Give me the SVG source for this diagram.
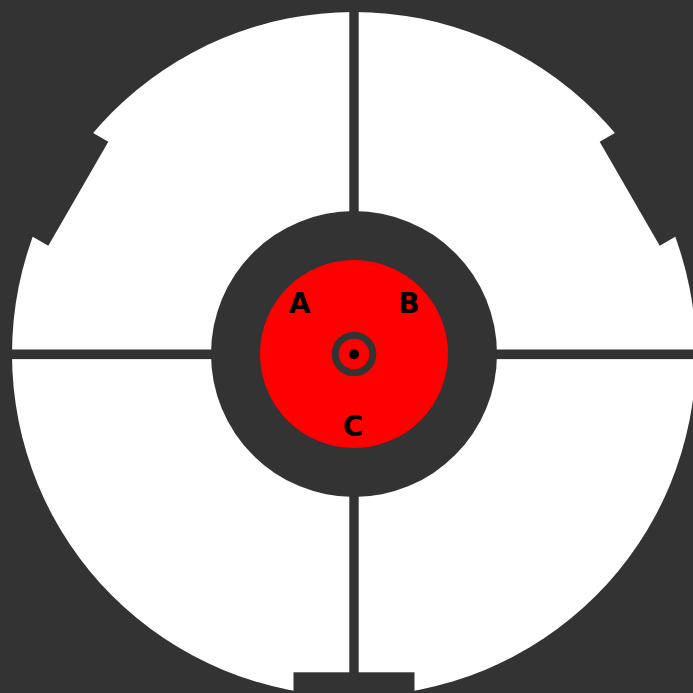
<svg xmlns="http://www.w3.org/2000/svg" width="693" height="693" viewBox="0 0 693 693">
<style>
.dark{fill:#333333}
.lbl{font-family:"DejaVu Sans",sans-serif;font-weight:bold;font-size:28px;fill:#000;text-anchor:middle}
</style>
<rect id="background" x="0" y="0" width="693" height="693" class="dark"/>
<g id="target">
<circle cx="354" cy="354" r="342" fill="#ffffff"/>
<polygon id="notch-left" class="dark" points="108.3,141.7 48.3,245.7 13.7,225.7 73.7,121.7"/>
<polygon id="notch-right" class="dark" points="599.7,141.7 659.7,245.7 694.3,225.7 634.3,121.7"/>
<rect id="bottom-block" class="dark" x="293.5" y="672.3" width="121" height="25"/>
</g>
<g id="crosshair">
<rect class="dark" x="349.3" y="0" width="9.4" height="693"/>
<rect class="dark" x="0" y="349.5" width="693" height="9.6"/>
</g>
<g id="bullseye">
<circle cx="354" cy="354" r="143" class="dark"/>
<circle cx="354" cy="354" r="94" fill="#ff0000"/>
<circle cx="354" cy="354" r="18.8" fill="none" stroke="#333333" stroke-width="7"/>
<circle cx="354" cy="354.3" r="5" fill="#000000"/>
</g>
<g id="labels">
<text class="lbl" x="299.5" y="312.5">A</text>
<text class="lbl" x="409" y="312.5">B</text>
<text class="lbl" x="353" y="436">C</text>
</g>
</svg>
